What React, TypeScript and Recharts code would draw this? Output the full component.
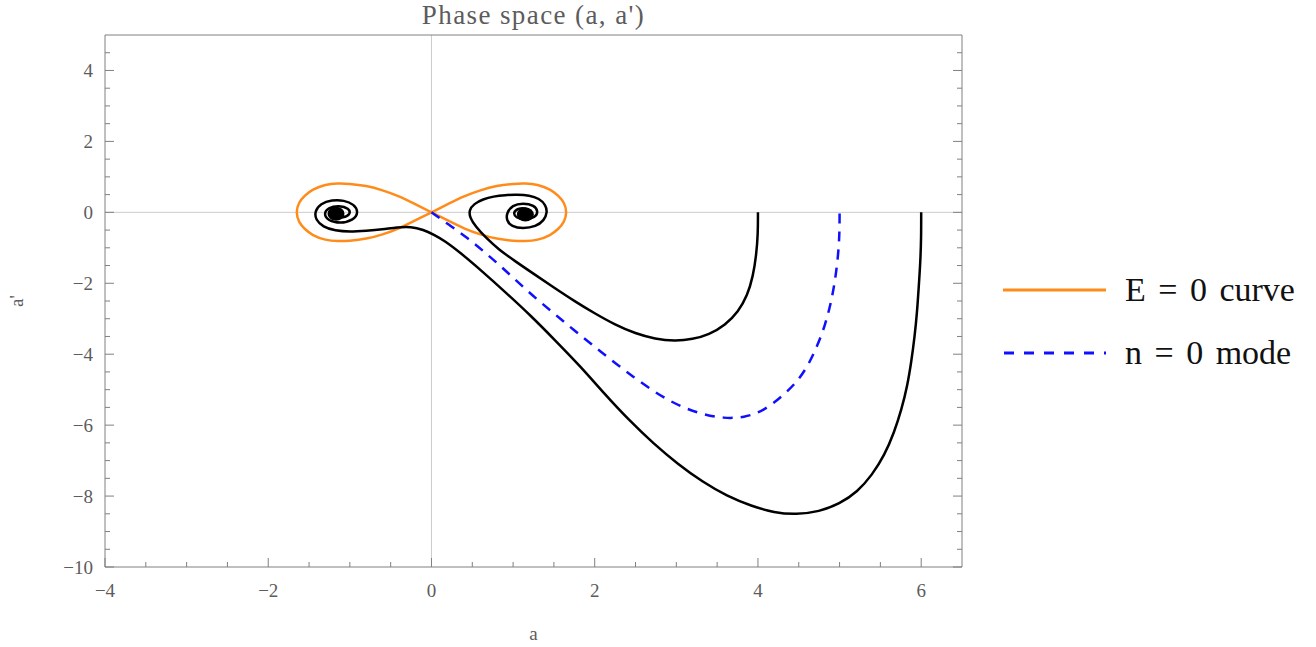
import React from 'react';
import { ComposedChart, Line, Scatter, XAxis, YAxis, ReferenceLine, Legend, Label } from 'recharts';

// (a, a') samples
const energyCurve: [number, number][] = [
  [0, 0], [0.2, 0.23], [0.4, 0.45], [0.6, 0.62], [0.8, 0.74], [1.0, 0.8], [1.15, 0.81], [1.3, 0.77],
  [1.45, 0.64], [1.55, 0.47], [1.62, 0.27], [1.65, 0], [1.62, -0.27], [1.55, -0.47], [1.45, -0.64],
  [1.3, -0.77], [1.15, -0.81], [1.0, -0.8], [0.8, -0.74], [0.6, -0.62], [0.4, -0.45], [0.2, -0.23],
  [0, 0], [-0.2, 0.23], [-0.4, 0.45], [-0.6, 0.62], [-0.8, 0.74], [-1.0, 0.8], [-1.15, 0.81],
  [-1.3, 0.77], [-1.45, 0.64], [-1.55, 0.47], [-1.62, 0.27], [-1.65, 0], [-1.62, -0.27],
  [-1.55, -0.47], [-1.45, -0.64], [-1.3, -0.77], [-1.15, -0.81], [-1.0, -0.8], [-0.8, -0.74],
  [-0.6, -0.62], [-0.4, -0.45], [-0.2, -0.23], [0, 0],
];

// trajectory starting at a = 4, winding into the right focus
const innerOrbit: [number, number][] = [
  [4.0, 0], [4.0, -0.6], [3.98, -1.2], [3.94, -1.8], [3.87, -2.35], [3.76, -2.8], [3.6, -3.18],
  [3.4, -3.45], [3.2, -3.58], [2.98, -3.63], [2.74, -3.57], [2.5, -3.42], [2.25, -3.17],
  [2.0, -2.85], [1.75, -2.5], [1.5, -2.12], [1.25, -1.73], [1.02, -1.37], [0.82, -1.04],
  [0.66, -0.7], [0.54, -0.4], [0.47, -0.15], [0.46, 0.06], [0.52, 0.24], [0.63, 0.37],
  [0.76, 0.45], [0.9, 0.49], [1.05, 0.5], [1.2, 0.48], [1.32, 0.39], [1.4, 0.21],
  [1.42, 0.0], [1.38, -0.23], [1.28, -0.4], [1.12, -0.46], [0.98, -0.4], [0.92, -0.23],
  [0.92, -0.02], [0.99, 0.2], [1.12, 0.26], [1.26, 0.2], [1.31, 0.02], [1.27, -0.15],
  [1.15, -0.22], [1.03, -0.15], [1.0, 0.0], [1.06, 0.11], [1.15, 0.13], [1.22, 0.03],
  [1.18, -0.08], [1.11, -0.1], [1.07, -0.02], [1.1, 0.04], [1.14, 0.02], [1.13, -0.01],
];

// trajectory starting at a = 6, winding into the left focus
const outerOrbit: [number, number][] = [
  [6.0, 0], [6.0, -0.7], [5.99, -1.4], [5.97, -2.1], [5.95, -2.8], [5.92, -3.5], [5.88, -4.2],
  [5.83, -4.9], [5.76, -5.55], [5.67, -6.2], [5.55, -6.85], [5.4, -7.4], [5.22, -7.88],
  [5.0, -8.22], [4.75, -8.44], [4.47, -8.52], [4.2, -8.47], [3.92, -8.28], [3.62, -8.0],
  [3.32, -7.6], [3.02, -7.1], [2.72, -6.52], [2.42, -5.86], [2.12, -5.12], [1.82, -4.33],
  [1.52, -3.62], [1.22, -2.92], [0.92, -2.28], [0.62, -1.66], [0.36, -1.15], [0.16, -0.8],
  [0.03, -0.63], [-0.1, -0.49], [-0.25, -0.4], [-0.42, -0.42], [-0.6, -0.48], [-0.8, -0.52],
  [-1.0, -0.55], [-1.18, -0.52], [-1.33, -0.41], [-1.42, -0.21],
  [-1.43, 0.03], [-1.36, 0.25], [-1.22, 0.35], [-1.07, 0.34], [-0.95, 0.23], [-0.89, 0.0],
  [-0.96, -0.23], [-1.12, -0.32], [-1.27, -0.23], [-1.32, -0.05], [-1.27, 0.13], [-1.13, 0.2],
  [-1.01, 0.11], [-0.99, -0.05], [-1.08, -0.16], [-1.2, -0.14], [-1.24, 0.0], [-1.16, 0.09],
  [-1.1, 0.02], [-1.12, -0.02],
];

// n = 0 mode, from the origin out to a = 5
const modeCurve: [number, number][] = [
  [0, 0], [0.22, -0.36], [0.44, -0.72], [0.65, -1.12], [0.85, -1.52], [1.05, -1.95], [1.25, -2.37],
  [1.46, -2.77], [1.66, -3.16], [1.87, -3.55], [2.07, -3.92], [2.28, -4.3], [2.48, -4.65],
  [2.68, -4.98], [2.88, -5.27], [3.1, -5.52], [3.33, -5.7], [3.58, -5.81], [3.83, -5.79],
  [4.07, -5.6], [4.3, -5.18], [4.48, -4.78], [4.62, -4.3], [4.73, -3.75], [4.82, -3.2],
  [4.89, -2.6], [4.94, -2.0], [4.98, -1.3], [5.0, -0.6], [5.0, 0],
];

// the two foci the orbits spiral into
const foci: [number, number][] = [[-1.17, -0.04], [1.15, -0.06]];

const xTicks = [-4, -3.5, -3, -2.5, -2, -1.5, -1, -0.5, 0, 0.5, 1, 1.5, 2, 2.5, 3, 3.5, 4, 4.5, 5, 5.5, 6];
const yTicks = [
  -10, -9.5, -9, -8.5, -8, -7.5, -7, -6.5, -6, -5.5, -5, -4.5, -4, -3.5, -3, -2.5, -2, -1.5, -1, -0.5,
  0, 0.5, 1, 1.5, 2, 2.5, 3, 3.5, 4, 4.5,
];
const xLabelled = [-4, -2, 0, 2, 4, 6];
const yLabelled = [-10, -8, -6, -4, -2, 0, 2, 4];

const FRAME = '#808080';
const TEXT = '#5c5c5c';
const SERIF = '"Liberation Serif", "Times New Roman", serif';

const toRows = (pts: [number, number][]) => pts.map(([x, y]) => ({ x, y }));
const fmt = (v: number) => (v < 0 ? '\u2212' + Math.abs(v) : String(v));

function BottomTick({ x, y, payload }: any) {
  const major = xLabelled.includes(payload.value);
  return (
    <g>
      <line x1={x} x2={x} y1={y} y2={y - (major ? 9 : 5)} stroke={FRAME} />
      {major && (
        <text x={x} y={y + 30} textAnchor="middle" fill={TEXT} fontSize={19} fontFamily={SERIF}>
          {fmt(payload.value)}
        </text>
      )}
    </g>
  );
}

function TopTick({ x, y, payload }: any) {
  const major = xLabelled.includes(payload.value);
  return <line x1={x} x2={x} y1={y} y2={y + (major ? 9 : 5)} stroke={FRAME} />;
}

function LeftTick({ x, y, payload }: any) {
  const major = yLabelled.includes(payload.value);
  return (
    <g>
      <line x1={x} x2={x + (major ? 9 : 5)} y1={y} y2={y} stroke={FRAME} />
      {major && (
        <text x={x - 12} y={y + 7} textAnchor="end" fill={TEXT} fontSize={19} fontFamily={SERIF}>
          {fmt(payload.value)}
        </text>
      )}
    </g>
  );
}

function RightTick({ x, y, payload }: any) {
  const major = yLabelled.includes(payload.value);
  return <line x1={x} x2={x - (major ? 9 : 5)} y1={y} y2={y} stroke={FRAME} />;
}

function YTitle({ viewBox }: any) {
  const cx = viewBox.x + 23;
  const cy = viewBox.y + viewBox.height / 2;
  return (
    <text x={cx} y={cy} transform={`rotate(-90 ${cx} ${cy})`} textAnchor="middle" fill={TEXT} fontSize={19} fontFamily={SERIF}>
      a'
    </text>
  );
}

function PlotTitle({ viewBox }: any) {
  return (
    <text
      x={viewBox.x + viewBox.width / 2}
      y={viewBox.y - 1}
      textAnchor="middle"
      fill={TEXT}
      fontSize={27}
      letterSpacing={1.4}
      fontFamily={SERIF}
    >
      Phase space (a, a')
    </text>
  );
}

function LegendBox() {
  const row: React.CSSProperties = { display: 'flex', alignItems: 'center', height: 63 };
  const txt: React.CSSProperties = { fontFamily: SERIF, fontSize: 34, color: '#111', marginLeft: 19, wordSpacing: 4, whiteSpace: 'nowrap' };
  return (
    <div>
      <div style={row}>
        <svg width={103} height={6}>
          <line x1={0} x2={103} y1={3} y2={3} stroke="#ff8c1a" strokeWidth={3} />
        </svg>
        <span style={txt}>E = 0 curve</span>
      </div>
      <div style={row}>
        <svg width={103} height={6}>
          <line x1={1} x2={103} y1={3} y2={3} stroke="#1010ff" strokeWidth={3} strokeDasharray="10 10" />
        </svg>
        <span style={txt}>n = 0 mode</span>
      </div>
    </div>
  );
}

export default function App() {
  return (
    <div>
      <style>{'body{margin:0}'}</style>
      <ComposedChart width={1316} height={647} margin={{ top: 25, right: 344, bottom: 0, left: 0 }} style={{ fontFamily: SERIF }}>
        <XAxis
          dataKey="x"
          type="number"
          domain={[-4, 6.5]}
          ticks={xTicks}
          interval={0}
          allowDataOverflow
          height={80}
          tickSize={0}
          tickMargin={0}
          tickLine={false}
          tick={<BottomTick />}
          axisLine={{ stroke: FRAME }}
        >
          <Label value="a" position="insideBottom" offset={7} fill={TEXT} fontSize={19} fontFamily={SERIF} />
        </XAxis>
        <XAxis
          xAxisId="t"
          orientation="top"
          type="number"
          domain={[-4, 6.5]}
          ticks={xTicks}
          interval={0}
          allowDataOverflow
          height={10}
          tickSize={0}
          tickMargin={0}
          tickLine={false}
          tick={<TopTick />}
          axisLine={{ stroke: FRAME }}
        >
          <Label content={<PlotTitle />} />
        </XAxis>
        <YAxis
          type="number"
          domain={[-10, 5]}
          ticks={yTicks}
          interval={0}
          allowDataOverflow
          width={105}
          tickSize={0}
          tickMargin={0}
          tickLine={false}
          tick={<LeftTick />}
          axisLine={{ stroke: FRAME }}
        >
          <Label content={<YTitle />} />
        </YAxis>
        <YAxis
          yAxisId="r"
          orientation="right"
          type="number"
          domain={[-10, 5]}
          ticks={yTicks}
          interval={0}
          allowDataOverflow
          width={10}
          tickSize={0}
          tickMargin={0}
          tickLine={false}
          tick={<RightTick />}
          axisLine={{ stroke: FRAME }}
        />
        <ReferenceLine x={0} stroke="#cccccc" strokeWidth={1} />
        <ReferenceLine y={0} stroke="#cccccc" strokeWidth={1} />
        <Line
          data={toRows(energyCurve)}
          dataKey="y"
          name="E = 0 curve"
          type="natural"
          stroke="#ff8c1a"
          strokeWidth={2.5}
          dot={false}
          isAnimationActive={false}
        />
        <Line
          data={toRows(innerOrbit)}
          dataKey="y"
          type="basis"
          stroke="#000000"
          strokeWidth={2.5}
          dot={false}
          legendType="none"
          isAnimationActive={false}
        />
        <Line
          data={toRows(outerOrbit)}
          dataKey="y"
          type="basis"
          stroke="#000000"
          strokeWidth={2.5}
          dot={false}
          legendType="none"
          isAnimationActive={false}
        />
        <Line
          data={toRows(modeCurve)}
          dataKey="y"
          name="n = 0 mode"
          type="basis"
          stroke="#1010ff"
          strokeWidth={2.5}
          strokeDasharray="10 8"
          dot={false}
          isAnimationActive={false}
        />
        <Scatter
          data={toRows(foci)}
          dataKey="y"
          legendType="none"
          isAnimationActive={false}
          shape={(p: any) => <ellipse cx={p.cx} cy={p.cy} rx={8.5} ry={7} fill="#000000" />}
        />
        <Legend
          align="center"
          verticalAlign="middle"
          wrapperStyle={{ left: 1003, top: 258, width: 310 }}
          content={<LegendBox />}
        />
      </ComposedChart>
    </div>
  );
}
